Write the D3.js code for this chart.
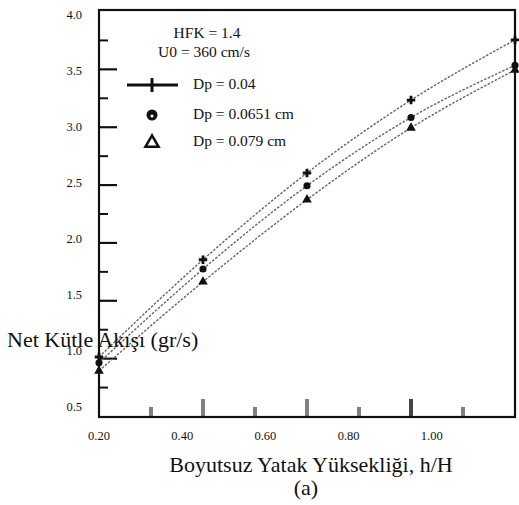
<!DOCTYPE html>
<html>
<head>
<meta charset="utf-8">
<script src="https://cdn.jsdelivr.net/npm/d3@7"></script>
<style>
  body { margin: 0; background: #fff; }
  text { font-family: "Liberation Serif", "Times New Roman", serif; fill: #111; }
</style>
</head>
<body>
<div id="plot"></div>
<script>
// data
var hH      = [0.20, 0.45, 0.70, 0.95, 1.20];
var dp004   = [1.01, 1.85, 2.60, 3.23, 3.75];
var dp0651  = [0.96, 1.77, 2.49, 3.08, 3.53];
var dp079   = [0.89, 1.66, 2.37, 2.99, 3.49];
var seriesNames = ["Dp = 0.04", "Dp = 0.0651 cm", "Dp = 0.079 cm"];
var yMajor  = [1.0, 1.5, 2.0, 2.5, 3.0, 3.5];
var yMinor  = [0.75, 1.25, 1.75, 2.25, 2.75, 3.25, 3.75];
var yLabels = [0.5, 1.0, 1.5, 2.0, 2.5, 3.0, 3.5, 4.0];
var xLabels = [0.20, 0.40, 0.60, 0.80, 1.00];
var xBarsTall  = [0.45, 0.70, 0.95];
var xBarsShort = [0.325, 0.575, 0.825, 1.075];

var width = 519, height = 505;
var box = {left: 99, right: 515, top: 10, bottom: 417};

var svg = d3.select("#plot").append("svg")
    .attr("width", width)
    .attr("height", height);

var x = d3.scaleLinear().domain([0.2, 1.2]).range([box.left, box.right]);
var y = d3.scaleLinear().domain([0.5, 4.0]).range([416, 11]);
// the printed tick labels sit a little off the tick marks in the scan
var yLab = d3.scaleLinear().domain([0.5, 4.0]).range([407, 15]);

// y ticks (drawn inward)
svg.append("g")
    .attr("transform", "translate(" + box.left + ",0)")
    .call(d3.axisLeft(y).tickValues(yMajor).tickSize(-18).tickFormat(""))
    .call(function(g){ g.select(".domain").remove(); })
    .selectAll("line").attr("stroke", "#111").attr("stroke-width", 2.2);

svg.append("g")
    .attr("transform", "translate(" + box.left + ",0)")
    .call(d3.axisLeft(y).tickValues(yMinor).tickSize(-9).tickFormat(""))
    .call(function(g){ g.select(".domain").remove(); })
    .selectAll("line").attr("stroke", "#111").attr("stroke-width", 2);

svg.append("g").selectAll("text")
    .data(yLabels)
    .enter().append("text")
    .attr("x", 82)
    .attr("y", function(d){ return yLab(d); })
    .attr("dy", "0.35em")
    .attr("text-anchor", "end")
    .style("font-size", "12.5px")
    .text(function(d){ return d3.format(".1f")(d); });

// x bars on the bottom axis
svg.append("g").selectAll("rect")
    .data(xBarsTall)
    .enter().append("rect")
    .attr("x", function(d){ return x(d) - 2; })
    .attr("y", box.bottom - 18)
    .attr("width", 4)
    .attr("height", 18)
    .attr("fill", function(d){ return d == 0.95 ? "#444" : "#808080"; });

svg.append("g").selectAll("rect")
    .data(xBarsShort)
    .enter().append("rect")
    .attr("x", function(d){ return x(d) - 2; })
    .attr("y", box.bottom - 10)
    .attr("width", 4)
    .attr("height", 10)
    .attr("fill", "#808080");

svg.append("g").selectAll("text")
    .data(xLabels)
    .enter().append("text")
    .attr("x", function(d){ return x(d); })
    .attr("y", 440)
    .attr("text-anchor", "middle")
    .style("font-size", "12.5px")
    .text(function(d){ return d3.format(".2f")(d); });

// frame
svg.append("rect")
    .attr("x", box.left)
    .attr("y", box.top)
    .attr("width", box.right - box.left)
    .attr("height", box.bottom - box.top)
    .attr("fill", "none")
    .attr("stroke", "#111")
    .attr("stroke-width", 2.2);

// lines
var allSeries = [dp004, dp0651, dp079];
var line = d3.line()
    .x(function(d, i){ return x(hH[i]); })
    .y(function(d){ return y(d); })
    .curve(d3.curveMonotoneX);

svg.append("g").selectAll("path")
    .data(allSeries)
    .enter().append("path")
    .attr("d", line)
    .attr("fill", "none")
    .attr("stroke", "#666")
    .attr("stroke-width", 1.4)
    .attr("stroke-dasharray", "2.5,1.5");

// markers
var symbols = [d3.symbolCross, d3.symbolCircle, d3.symbolTriangle];
allSeries.forEach(function(s, k){
    svg.append("g").selectAll("path")
        .data(s)
        .enter().append("path")
        .attr("transform", function(d, i){ return "translate(" + x(hH[i]) + "," + y(d) + ")"; })
        .attr("d", d3.symbol().type(symbols[k]).size(40))
        .attr("fill", "#111");
});

// annotation
svg.append("text").attr("x", 207).attr("y", 38).attr("text-anchor", "middle")
    .style("font-size", "15.5px").text("HFK = 1.4");
svg.append("text").attr("x", 204).attr("y", 57).attr("text-anchor", "middle")
    .style("font-size", "15.5px").text("U0 = 360 cm/s");

// handmade legend
var legY = [85, 115, 142];
svg.append("line").attr("x1", 127).attr("x2", 178).attr("y1", legY[0]).attr("y2", legY[0])
    .attr("stroke", "#111").attr("stroke-width", 3);
svg.append("line").attr("x1", 152).attr("x2", 152).attr("y1", legY[0] - 7).attr("y2", legY[0] + 7)
    .attr("stroke", "#111").attr("stroke-width", 3);
svg.append("path").attr("transform", "translate(152," + legY[1] + ")")
    .attr("d", d3.symbol().type(d3.symbolCircle).size(95)).attr("fill", "#111");
svg.append("circle").attr("cx", 152).attr("cy", legY[1] + 1).attr("r", 1.5).attr("fill", "#fff");
svg.append("path").attr("transform", "translate(152," + (legY[2] + 1) + ")")
    .attr("d", d3.symbol().type(d3.symbolTriangle).size(75))
    .attr("fill", "#fff").attr("stroke", "#111").attr("stroke-width", 2.5);

seriesNames.forEach(function(n, k){
    svg.append("text").attr("x", 193).attr("y", legY[k] + 4)
        .style("font-size", "15.5px").text(n);
});

// axis titles
svg.append("text").attr("x", 7).attr("y", 347)
    .style("font-size", "22px").text("Net Kütle Akışı (gr/s)");
svg.append("text").attr("x", 311).attr("y", 472).attr("text-anchor", "middle")
    .style("font-size", "22px").text("Boyutsuz Yatak Yüksekliği, h/H");
svg.append("text").attr("x", 306).attr("y", 495).attr("text-anchor", "middle")
    .style("font-size", "22px").text("(a)");
</script>
</body>
</html>
